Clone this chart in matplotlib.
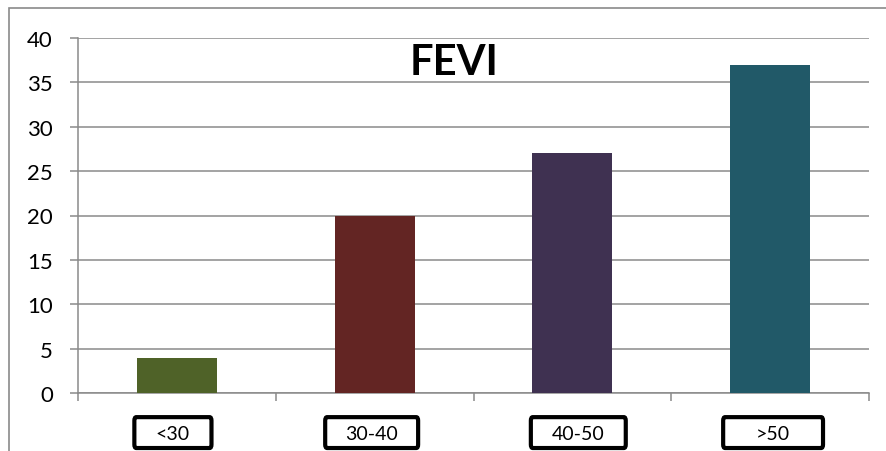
import matplotlib.pyplot as plt
from matplotlib.patches import FancyBboxPatch, Rectangle
from matplotlib.transforms import blended_transform_factory

plt.rcParams['font.family'] = ['Lato', 'DejaVu Sans']

categories = ['<30', '30-40', '40-50', '>50']
values = [4, 20, 27, 37]
colors = ['#4F6228', '#632523', '#3F3151', '#215968']
box_widths = [0.39, 0.47, 0.48, 0.505]
box_offsets = [-0.02, -0.015, 0.03, 0.015]

fig = plt.figure(figsize=(8.86, 4.52), dpi=100)
ax = fig.add_axes([78 / 886, 1 - 394 / 452, 791 / 886, 355 / 452])

x = range(len(categories))
ax.bar(x, values, width=0.404, color=colors, zorder=3)

ax.set_xlim(-0.5, 3.5)
ax.set_ylim(0, 40)
ax.set_yticks(range(0, 41, 5))
ax.yaxis.grid(True, color='#8a8a8a', lw=1.1, zorder=0)
ax.tick_params(axis='y', length=6, width=1.1, color='#8a8a8a', pad=12,
               labelsize=16)
ax.set_xticks([-0.5, 0.5, 1.5, 2.5, 3.5])
ax.set_xticklabels([])
ax.tick_params(axis='x', length=6, width=1.1, color='#8a8a8a', direction='out')
for s in ['top', 'right']:
    ax.spines[s].set_visible(False)
for s in ['left', 'bottom']:
    ax.spines[s].set_color('#8a8a8a')
    ax.spines[s].set_linewidth(1.1)

ax.text(0.475, 0.899, 'FEVI', transform=ax.transAxes, ha='center',
        va='baseline', fontsize=30, fontweight='bold')

# category labels in heavy boxes under the axis
trans = blended_transform_factory(ax.transData, ax.transAxes)
for i, lab in enumerate(categories):
    cx = i + box_offsets[i]
    w = box_widths[i]
    ax.add_patch(FancyBboxPatch((cx - w / 2, -0.155), w, 0.087,
                                boxstyle='round,pad=0,rounding_size=0.01',
                                transform=trans, clip_on=False,
                                fc='white', ec='black', lw=3))
    ax.text(cx, -0.113, lab, transform=trans, ha='center', va='center',
            fontsize=14)

# outer chart border (top and left edges only show)
fig.add_artist(Rectangle((9 / 886, -0.05), 1.1, 1 - 9 / 452 + 0.05,
                         transform=fig.transFigure, fill=False,
                         ec='#8a8a8a', lw=1.2))

fig.savefig('out.png', dpi=100)
